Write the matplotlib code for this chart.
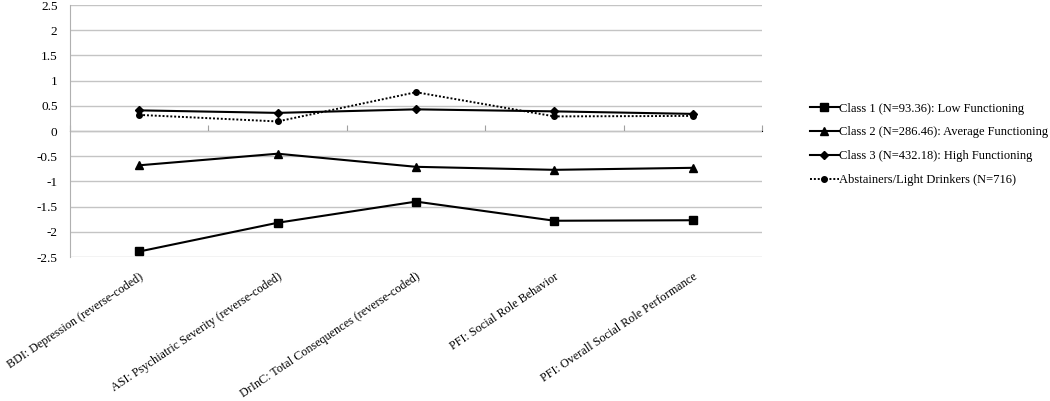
import numpy as np
import matplotlib.pyplot as plt

plt.rcParams['font.family'] = ['Liberation Serif', 'DejaVu Serif']

# data
categories = ["BDI: Depression (reverse-coded)",
              "ASI: Psychiatric Severity (reverse-coded)",
              "DrInC: Total Consequences (reverse-coded)",
              "PFI: Social Role Behavior",
              "PFI: Overall Social Role Performance"]
class1 = [-2.39, -1.82, -1.40, -1.78, -1.77]
class2 = [-0.68, -0.45, -0.71, -0.77, -0.73]
class3 = [0.41, 0.36, 0.43, 0.39, 0.34]
abstainers = [0.32, 0.19, 0.77, 0.29, 0.30]
series_names = ["Class 1 (N=93.36): Low Functioning",
                "Class 2 (N=286.46): Average Functioning",
                "Class 3 (N=432.18): High Functioning",
                "Abstainers/Light Drinkers (N=716)"]

fig = plt.figure(figsize=(10.5, 4.01), dpi=100)
ax = fig.add_axes([0.0667, 0.359, 0.659, 0.6285])

x = np.arange(len(categories))
ax.plot(x, class1, color='black', lw=1.5, marker='s', ms=5.8, label=series_names[0])
ax.plot(x, class2, color='black', lw=1.5, marker='^', ms=6.2, label=series_names[1])
ax.plot(x, class3, color='black', lw=1.5, marker='D', ms=4.3, label=series_names[2])
ax.plot(x, abstainers, color='black', lw=1.4, ls=(0, (1, 1)), marker='o', ms=4,
        label=series_names[3])

ax.set_xlim(-0.5, len(categories) - 0.5)
ax.set_ylim(-2.5, 2.5)
ax.set_yticks(np.arange(-2.5, 2.51, 0.5))
ax.set_yticklabels([f"{v:g}" for v in np.arange(-2.5, 2.51, 0.5)])
ax.grid(axis='y', color='#c4c4c4', lw=1)
ax.set_axisbelow(True)

for s in ['top', 'right', 'bottom']:
    ax.spines[s].set_visible(False)
ax.spines['left'].set_color('#b0b0b0')
ax.tick_params(axis='y', length=0, labelsize=9.5, pad=9)

ax.set_xticks(x)
ax.set_xticklabels(categories, rotation=34, ha='right', rotation_mode='anchor', fontsize=8.7)
ax.tick_params(axis='x', length=0, pad=10)

# category axis crosses at zero
zero_ax = ax.secondary_xaxis(0.5)
zero_ax.set_xticks(np.arange(-0.5, len(categories), 1.0))
zero_ax.set_xticklabels([])
zero_ax.tick_params(length=4, color='#a0a0a0', direction='out')
zero_ax.spines['bottom'].set_color('#a0a0a0')

fig.legend(loc='center left', bbox_to_anchor=(0.7605, 0.64), frameon=False,
           fontsize=9, handlelength=2.3, handletextpad=0.05, labelspacing=0.95)

fig.savefig('out.png', dpi=100)
